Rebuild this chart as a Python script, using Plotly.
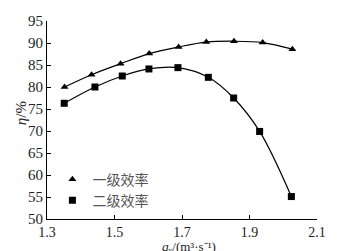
import plotly.graph_objects as go

q_stage1 = [1.352, 1.432, 1.518, 1.603, 1.690, 1.772, 1.854, 1.939, 2.027]
eta_stage1 = [80.0, 82.8, 85.3, 87.6, 89.1, 90.2, 90.4, 90.1, 88.6]
q_stage2 = [1.351, 1.442, 1.523, 1.602, 1.688, 1.778, 1.853, 1.930, 2.024]
eta_stage2 = [76.3, 80.0, 82.5, 84.1, 84.4, 82.2, 77.5, 69.9, 55.1]
names = ["一级效率", "二级效率"]
x_ticks = [1.3, 1.5, 1.7, 1.9, 2.1]
y_ticks = [50, 55, 60, 65, 70, 75, 80, 85, 90, 95]

font_main = "Liberation Serif, Times New Roman, serif"
font_cjk = "Noto Sans CJK SC, sans-serif"

fig = go.Figure()
for xs, ys, sym, nm in [(q_stage1, eta_stage1, "triangle-up", names[0]),
                        (q_stage2, eta_stage2, "square", names[1])]:
    fig.add_trace(go.Scatter(x=xs, y=ys, mode="lines", line=dict(color="black", width=1.2, shape="spline"),
                             showlegend=False, hoverinfo="skip"))
    fig.add_trace(go.Scatter(x=xs, y=ys, mode="markers", name=nm,
                             marker=dict(symbol=sym, size=7, color="black")))

fig.update_layout(
    width=350, height=251,
    margin=dict(l=39, r=41, t=13, b=40, autoexpand=False),
    paper_bgcolor="white", plot_bgcolor="white",
    font=dict(family=font_main, size=15, color="#222"),
    legend=dict(x=0.02, y=0.28, xanchor="left", yanchor="top", bgcolor="rgba(0,0,0,0)",
                font=dict(family=font_cjk, size=14, color="#555"), itemwidth=30, tracegroupgap=0),
    xaxis=dict(range=[1.3, 2.1], tickvals=x_ticks, ticktext=["1.3", "1.5", "1.7", "1.9", "2.1"],
               ticks="inside", ticklen=4, tickcolor="black", showline=True, linecolor="black",
               linewidth=1, showgrid=False, zeroline=False, automargin=False,
               tickfont=dict(size=14)),
    yaxis=dict(range=[50, 95], tickvals=y_ticks, ticks="inside", ticklen=4, tickcolor="black",
               showline=True, linecolor="black", linewidth=1, showgrid=False, zeroline=False,
               automargin=False),
    annotations=[
        dict(text="<i>q</i>ᵥ/(m³·s⁻¹)", xref="paper", yref="paper",
             x=0.5, y=-0.137, xshift=7, xanchor="center", yanchor="middle", showarrow=False,
             font=dict(family=font_main, size=13, color="#222")),
        dict(text="<i>η</i>/%", xref="paper", yref="paper", x=-0.096, y=0.535, textangle=-90,
             xanchor="center", yanchor="middle", showarrow=False,
             font=dict(family=font_main, size=15, color="#222")),
    ],
)
fig.write_html("out.html")
